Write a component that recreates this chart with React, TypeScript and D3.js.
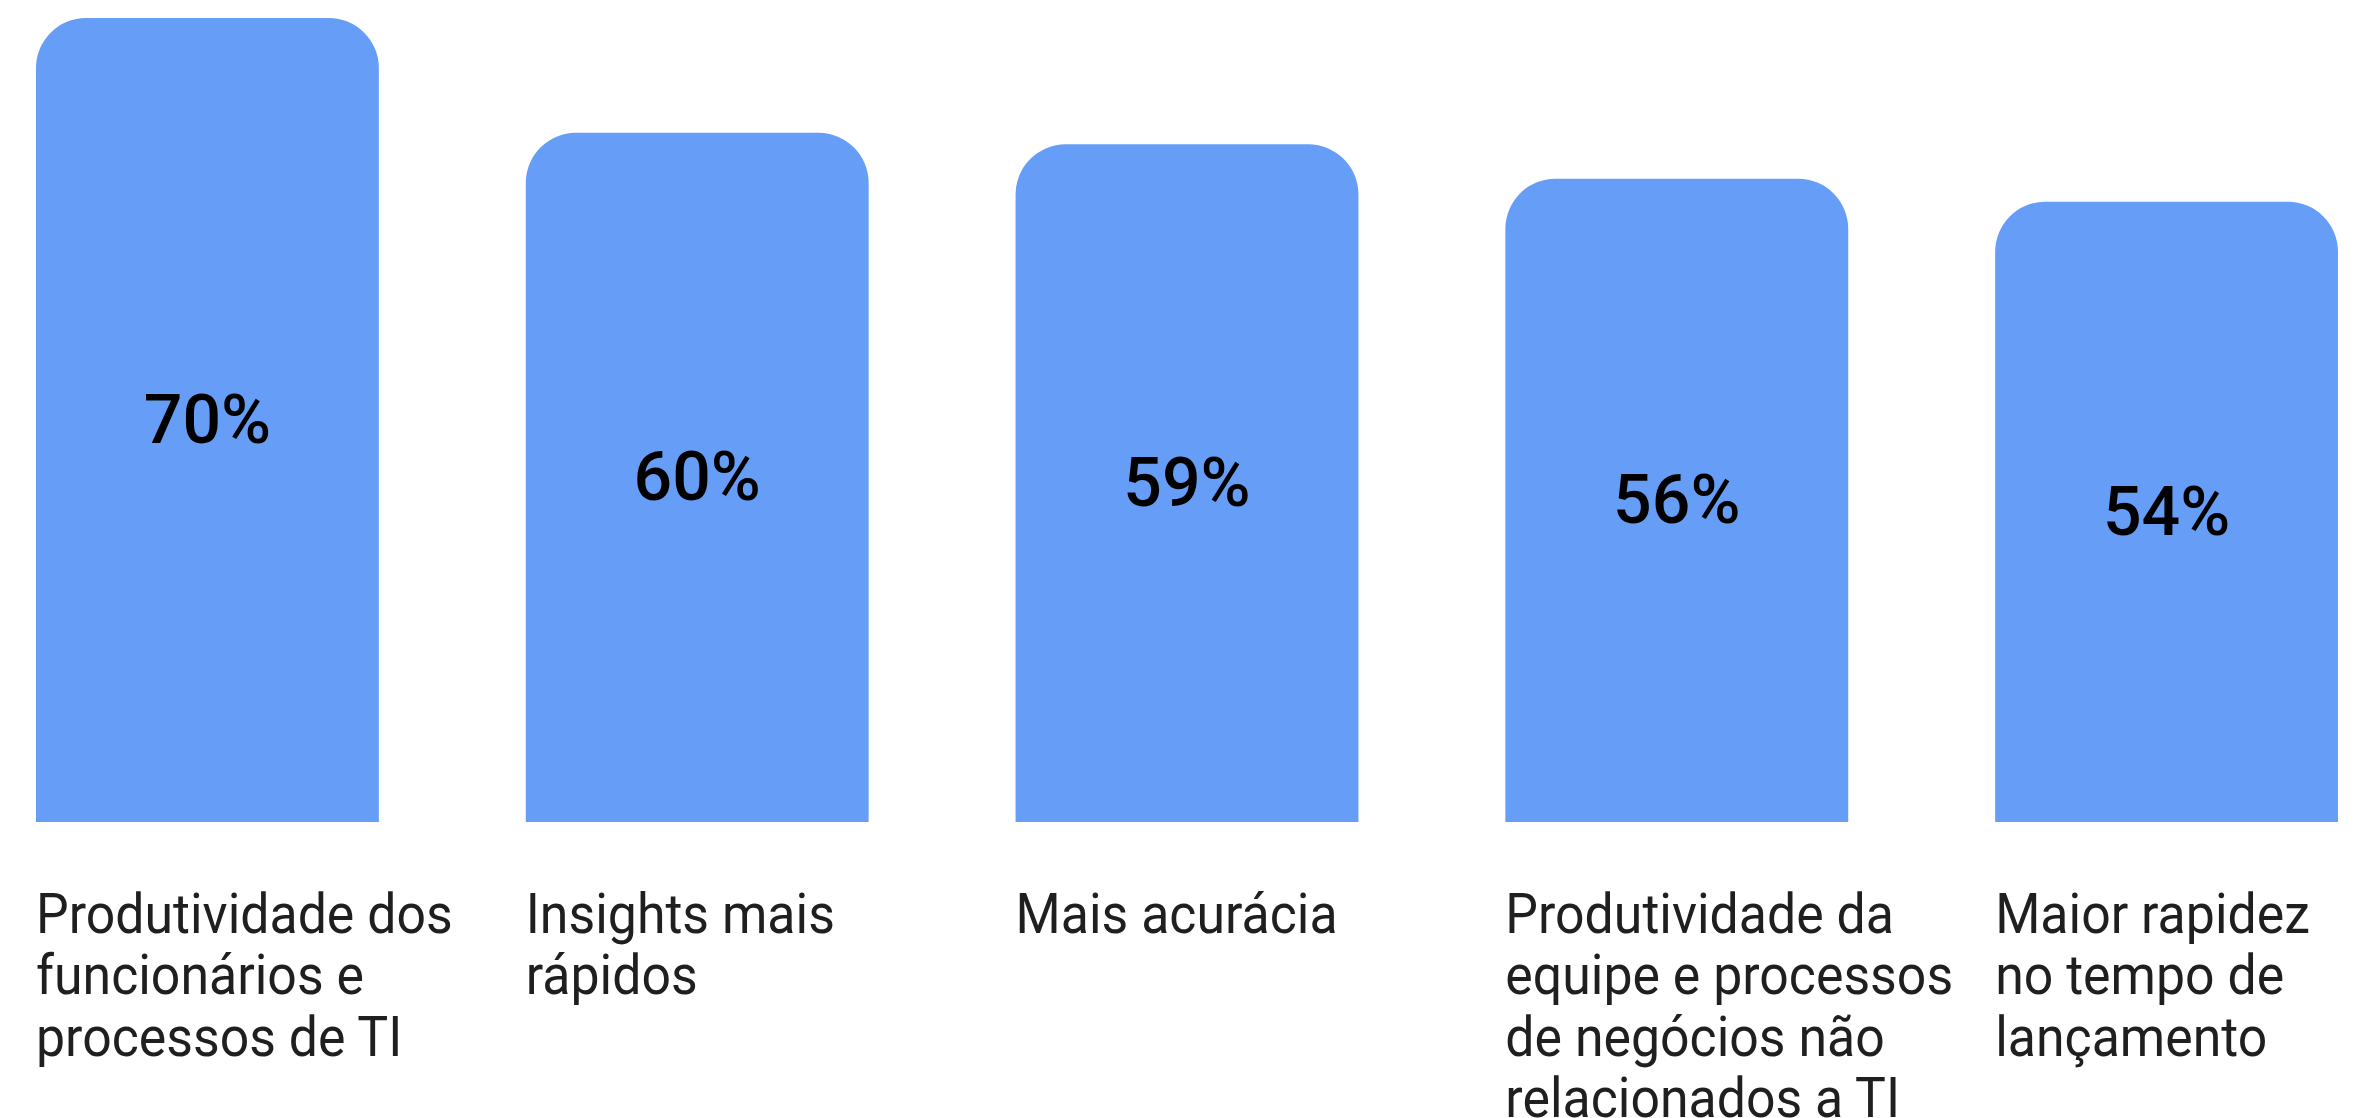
import * as d3 from "d3"
import { useEffect, useRef } from "react"

const categories = [
  ["Produtividade dos", "funcionários e", "processos de TI"],
  ["Insights mais", "rápidos"],
  ["Mais acurácia"],
  ["Produtividade da", "equipe e processos", "de negócios não", "relacionados a TI"],
  ["Maior rapidez", "no tempo de", "lançamento"],
]
const values = [70, 60, 59, 56, 54]
const valueLabels = ["70%", "60%", "59%", "56%", "54%"]

const W = 2356
const H = 1118

const App = () => {
  const svgRef = useRef<SVGSVGElement | null>(null)

  useEffect(() => {
    if (!svgRef.current) return
    const svg = d3.select(svgRef.current)
    svg.selectAll("*").remove()

    const baseY = 822
    const x = d3
      .scaleBand<number>()
      .domain(values.map((_d, i) => i))
      .range([36, 2338])
      .paddingInner(0.3)
      .paddingOuter(0)

    const y = d3.scaleLinear().domain([0, 70]).range([baseY, 18])

    const r = 50
    // bars with rounded top corners only
    svg
      .selectAll(".bar")
      .data(values)
      .enter()
      .append("path")
      .attr("class", "bar")
      .attr("fill", "#669df6")
      .attr("d", (d, i) => {
        const x0 = x(i) || 0
        const x1 = x0 + x.bandwidth()
        const top = y(d)
        const p = d3.path()
        p.moveTo(x0, baseY)
        p.lineTo(x0, top + r)
        p.arcTo(x0, top, x0 + r, top, r)
        p.lineTo(x1 - r, top)
        p.arcTo(x1, top, x1, top + r, r)
        p.lineTo(x1, baseY)
        p.closePath()
        return p.toString()
      })

    // value labels, centred in the bar
    svg
      .selectAll(".value")
      .data(values)
      .enter()
      .append("text")
      .attr("class", "value")
      .attr("x", (_d, i) => (x(i) || 0) + x.bandwidth() / 2)
      .attr("y", d => y(d / 2))
      .attr("text-anchor", "middle")
      .attr("dominant-baseline", "central")
      .style("font-family", "Roboto, sans-serif")
      .style("font-weight", "500")
      .style("font-size", "68px")
      .style("fill", "#000")
      .text((_d, i) => valueLabels[i])

    // category labels
    const lab = svg
      .selectAll(".cat")
      .data(categories)
      .enter()
      .append("text")
      .attr("class", "cat")
      .attr("transform", (_d, i) => `translate(${x(i) || 0},${baseY + 111}) scale(0.925,1)`)
      .style("font-family", "Roboto, sans-serif")
      .style("font-size", "56px")
      .style("fill", "#1f1f1f")

    lab
      .selectAll("tspan")
      .data(d => d)
      .enter()
      .append("tspan")
      .attr("x", 0)
      .attr("y", (_d, j) => j * 61.5)
      .text(d => d)
  }, [])

  return (
    <div style={{ position: "absolute", left: 0, top: 0, width: W, height: H, background: "#fff" }}>
      <svg ref={svgRef} width={W} height={H} />
    </div>
  )
}

export default App
